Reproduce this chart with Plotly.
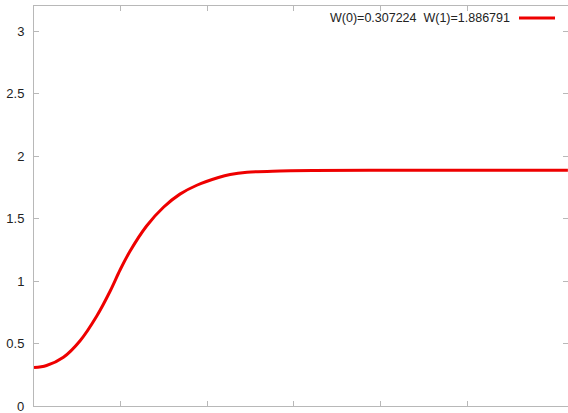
import plotly.graph_objects as go

# Sampled solution W(x)
x_vals = [0.0, 0.029, 0.068, 0.106, 0.145, 0.176, 0.199, 0.222, 0.260, 0.299,
          0.337, 0.376, 0.426, 0.453, 0.492, 0.568, 0.644, 0.800, 1.0, 1.233]
w_vals = [0.307224, 0.324, 0.39, 0.52, 0.72, 0.92, 1.09, 1.24, 1.44, 1.59,
          1.695, 1.766, 1.828, 1.852, 1.870, 1.880, 1.885, 1.8866, 1.886791, 1.8868]

y_ticks = [0, 0.5, 1, 1.5, 2, 2.5, 3]
y_tick_text = ["0", "0.5", "1", "1.5", "2", "2.5", "3"]
x_ticks = [0.2, 0.4, 0.6, 0.8, 1.0]

legend_text = "W(0)=0.307224\u00a0\u00a0W(1)=1.886791"
line_color = "#ee0000"
axis_color = "#b8b8b8"
font_family = "Liberation Sans, Arial, sans-serif"

fig = go.Figure()
fig.add_trace(go.Scatter(
    x=x_vals, y=w_vals, mode="lines",
    line=dict(color=line_color, width=3, shape="spline", smoothing=1.0),
    showlegend=False, hoverinfo="skip",
))

# Key: label text followed by a line sample
key_y = 1 - (18 - 6) / 400
fig.add_annotation(
    x=(512 - 34) / 534, y=key_y, xref="paper", yref="paper",
    text=legend_text, showarrow=False, xanchor="right", yanchor="middle",
    font=dict(family=font_family, size=12.5, color="#222"),
)
fig.add_shape(
    type="line", xref="paper", yref="paper",
    x0=(519 - 34) / 534, x1=(555 - 34) / 534, y0=key_y, y1=key_y,
    line=dict(color=line_color, width=3),
)

# Bottom tick label sits on the axis corner, so place it explicitly
fig.add_annotation(
    x=0, y=y_ticks[0], xref="paper", yref="y", text=y_tick_text[0],
    showarrow=False, xanchor="right", yanchor="middle", xshift=-8,
    font=dict(family=font_family, size=13, color="#222"),
)

fig.update_layout(
    width=568, height=413,
    margin=dict(l=34, r=0, t=6, b=7),
    paper_bgcolor="white", plot_bgcolor="white",
    font=dict(family=font_family, size=13, color="#222"),
    xaxis=dict(
        range=[0, 534 / 433], tickvals=x_ticks, showticklabels=False,
        ticks="inside", ticklen=5, tickcolor=axis_color, tickwidth=1,
        showline=True, linecolor=axis_color, linewidth=1, mirror="ticks",
        showgrid=False, zeroline=False, fixedrange=True,
    ),
    yaxis=dict(
        range=[0, 3.2], tickvals=y_ticks[1:], ticktext=y_tick_text[1:],
        ticks="inside", ticklen=5, tickcolor=axis_color, tickwidth=1,
        showline=True, linecolor=axis_color, linewidth=1, mirror="ticks",
        showgrid=False, zeroline=False, fixedrange=True,
        ticklabelstandoff=6,
    ),
)

fig.write_html("out.html", config={"displayModeBar": False})
